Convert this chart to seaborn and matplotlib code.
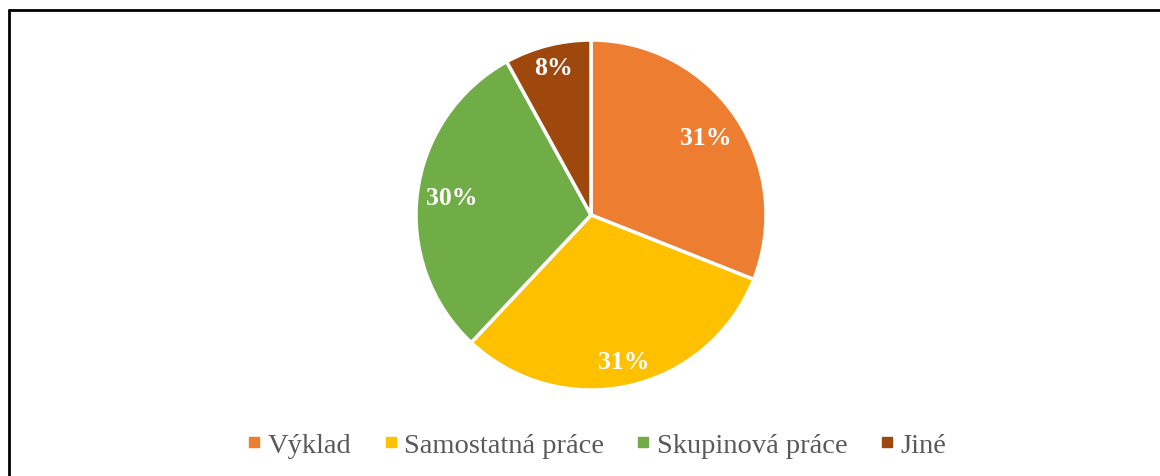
import numpy as np
import matplotlib
matplotlib.use("Agg")
import matplotlib.pyplot as plt
from matplotlib.lines import Line2D
import seaborn as sns

categories = ["Výklad", "Samostatná práce", "Skupinová práce", "Jiné"]
values = [31, 31, 30, 8]
labels = ["31%", "31%", "30%", "8%"]
colors = ["#ED7D31", "#FFC000", "#70AD47", "#9E480E"]
label_dist = [0.79, 0.86, 0.80, 0.87]

sns.set_theme(style="white")
plt.rcParams["font.family"] = ["Liberation Serif", "DejaVu Serif"]

W, H = 1160, 477
fig = plt.figure(figsize=(W / 100, H / 100), dpi=100)
fig.patch.set_facecolor("white")

cx, cy, r = 591, 216, 175
ax = fig.add_axes([(cx - r) / W, (H - cy - r) / H, 2 * r / W, 2 * r / H])
pal = sns.color_palette(colors)
wedges, _ = ax.pie(values, colors=pal, startangle=90, counterclock=False,
                   wedgeprops=dict(edgecolor="white", linewidth=2.5))
ax.set_xlim(-1, 1)
ax.set_ylim(-1, 1)
ax.set_aspect("equal")
ax.axis("off")

for w, lab, d in zip(wedges, labels, label_dist):
    ang = np.deg2rad((w.theta1 + w.theta2) / 2)
    ax.text(d * np.cos(ang), d * np.sin(ang), lab, ha="center", va="center",
            color="white", fontsize=18.5, fontweight="bold")

handles = [Line2D([0], [0], marker="s", linestyle="none", markersize=7,
                  markerfacecolor=c, markeredgecolor=c) for c in colors]
leg = fig.legend(handles, categories, loc="center", bbox_to_anchor=(0.5145, 1 - 446 / H),
                 ncol=4, frameon=False, fontsize=20.5, handlelength=0.45, handletextpad=0.25,
                 columnspacing=1.15, borderaxespad=0)
for t in leg.get_texts():
    t.set_color("#595959")

# figure border (top and left)
fig.add_artist(Line2D([8.5 / W, 1], [1 - 10.5 / H, 1 - 10.5 / H], color="black", lw=2,
                      transform=fig.transFigure))
fig.add_artist(Line2D([8.5 / W, 8.5 / W], [0, 1 - 10.5 / H], color="black", lw=2,
                      transform=fig.transFigure))

fig.savefig("out.png", dpi=100, facecolor="white")
